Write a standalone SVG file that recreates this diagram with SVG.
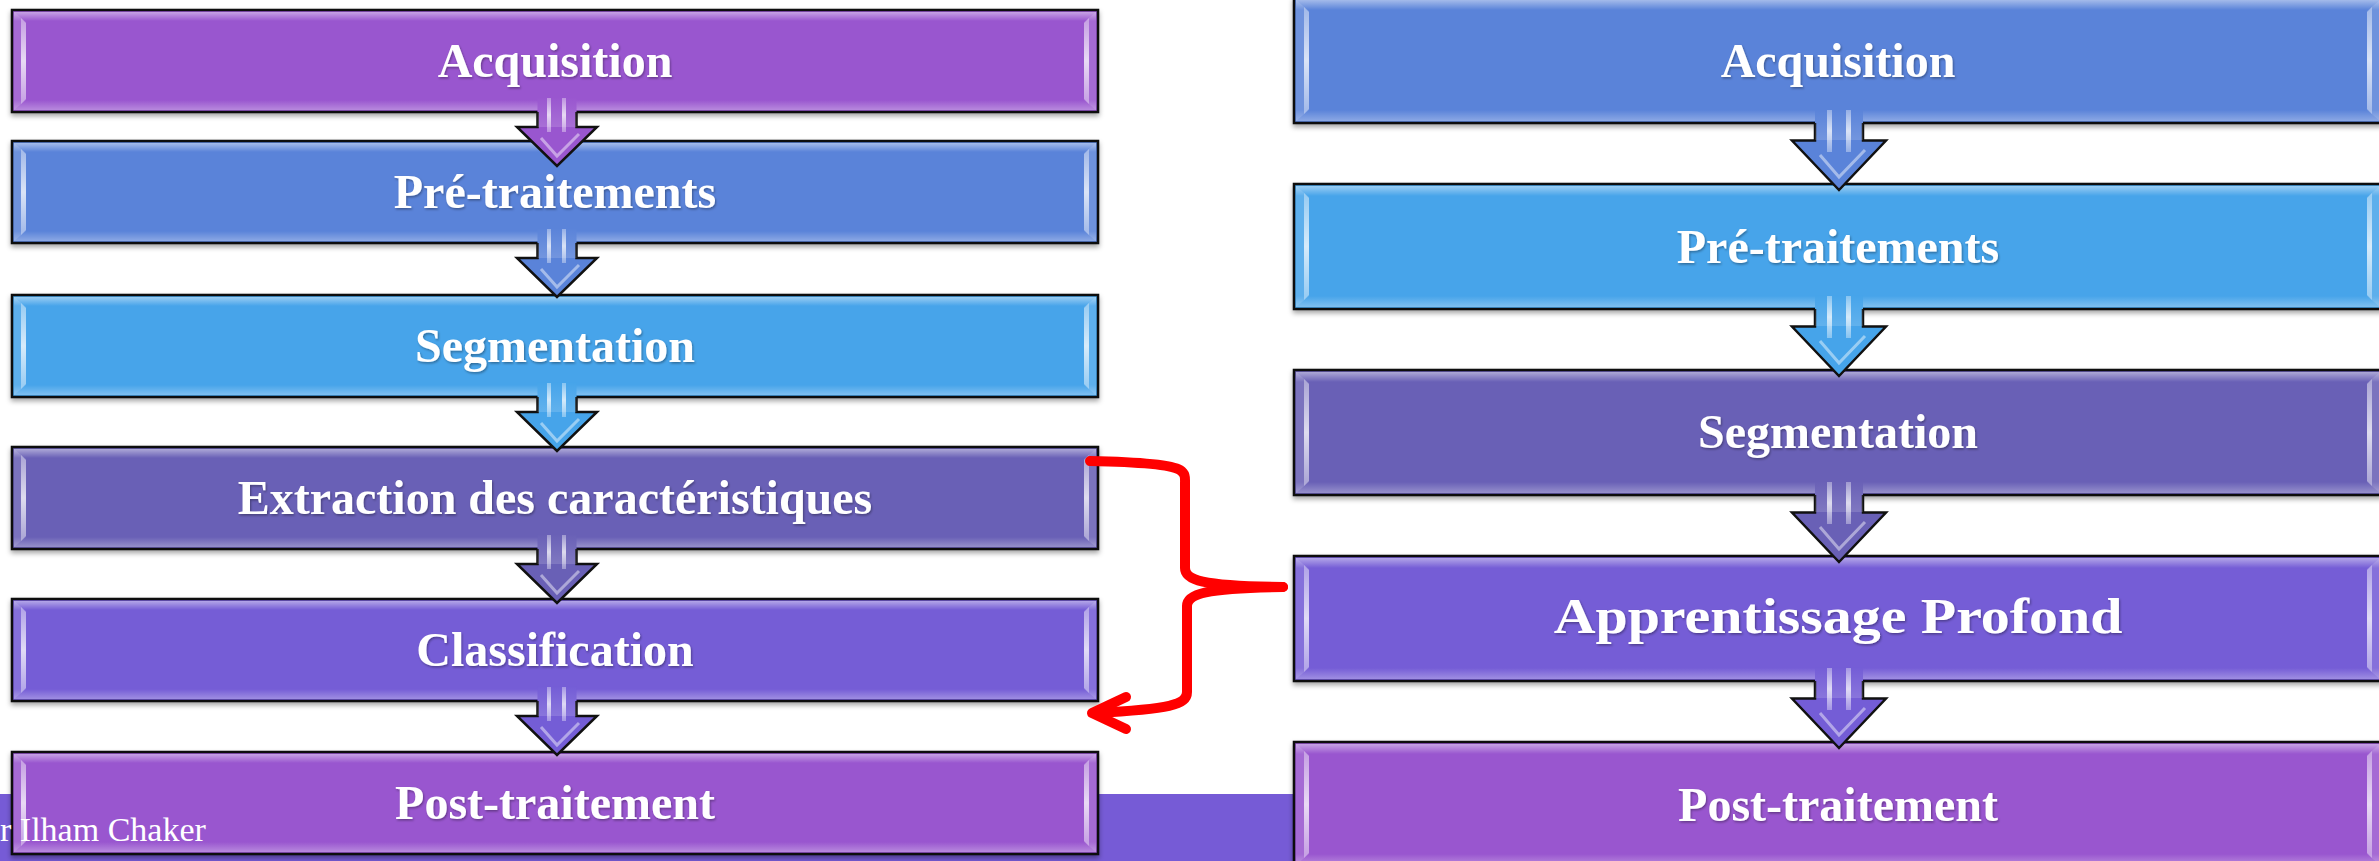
<svg xmlns="http://www.w3.org/2000/svg" xmlns:xlink="http://www.w3.org/1999/xlink" width="2379" height="861" viewBox="0 0 2379 861">
  <style>
    .box { stroke: #111; stroke-width: 2.5; filter: url(#shadow); }
    .lbl { font-family: "Liberation Serif", "Times New Roman", serif; font-weight: bold; font-size: 48px; fill: #fff; text-anchor: middle; filter: url(#tshadow); }
    .foot { font-family: "Liberation Serif", "Times New Roman", serif; font-size: 34px; fill: #fff; }
    .arr { stroke: #111; stroke-width: 2.5; stroke-linejoin: miter; }
    .shaft { stroke: none; }
    .hl { fill: url(#gStripe); }
    .chev { fill: none; stroke: #fff; stroke-opacity: 0.45; stroke-width: 3; }
    .red { fill: none; stroke: #ff0000; stroke-width: 10; stroke-linecap: round; stroke-linejoin: round; }
  </style>
  <defs>
    <filter id="shadow" x="-5%" y="-20%" width="110%" height="150%">
      <feDropShadow dx="0" dy="3" stdDeviation="2.5" flood-color="#000" flood-opacity="0.35"/>
    </filter>
    <filter id="tshadow" x="-10%" y="-30%" width="120%" height="160%">
      <feDropShadow dx="1" dy="1.5" stdDeviation="1" flood-color="#000" flood-opacity="0.35"/>
    </filter>
    <linearGradient id="gTop" x1="0" y1="0" x2="0" y2="1">
      <stop offset="0" stop-color="#fff" stop-opacity="0.45"/>
      <stop offset="1" stop-color="#fff" stop-opacity="0"/>
    </linearGradient>
    <linearGradient id="gBot" x1="0" y1="0" x2="0" y2="1">
      <stop offset="0" stop-color="#fff" stop-opacity="0"/>
      <stop offset="1" stop-color="#fff" stop-opacity="0.3"/>
    </linearGradient>
    <linearGradient id="gStripe" x1="0" y1="0" x2="0" y2="1">
      <stop offset="0" stop-color="#fff" stop-opacity="0.35"/>
      <stop offset="0.5" stop-color="#fff" stop-opacity="0.75"/>
      <stop offset="1" stop-color="#fff" stop-opacity="0.35"/>
    </linearGradient>
    <linearGradient id="gShaftFade" x1="0" y1="0" x2="0" y2="1">
      <stop offset="0" stop-color="#fff" stop-opacity="0"/>
      <stop offset="1" stop-color="#fff" stop-opacity="0.15"/>
    </linearGradient>

    <!-- bevel overlay for the left-column boxes (1086 x 102) -->
    <g id="bevelL">
      <rect x="2" y="2" width="1082" height="9" fill="url(#gTop)"/>
      <rect x="2" y="90" width="1082" height="10" fill="url(#gBot)"/>
      <path d="M2,2 L14,12 L14,90 L2,100 Z" fill="#fff" fill-opacity="0.12"/>
      <path d="M1084,2 L1072,12 L1072,90 L1084,100 Z" fill="#fff" fill-opacity="0.12"/>
      <path d="M9,8 L14,13 L14,89 L9,94 Z" fill="url(#gStripe)"/>
      <path d="M1077,8 L1072,13 L1072,89 L1077,94 Z" fill="url(#gStripe)"/>
    </g>
    <!-- bevel overlay for the right-column boxes (1088 x 125) -->
    <g id="bevelR">
      <rect x="2" y="2" width="1084" height="10" fill="url(#gTop)"/>
      <rect x="2" y="112" width="1084" height="11" fill="url(#gBot)"/>
      <path d="M2,2 L15,13 L15,112 L2,123 Z" fill="#fff" fill-opacity="0.12"/>
      <path d="M1086,2 L1073,13 L1073,112 L1086,123 Z" fill="#fff" fill-opacity="0.12"/>
      <path d="M10,9 L15,14 L15,111 L10,116 Z" fill="url(#gStripe)"/>
      <path d="M1078,9 L1073,14 L1073,111 L1078,116 Z" fill="url(#gStripe)"/>
    </g>

    <!-- block arrow for the left column, origin at the upper box bottom, centred on x=0 -->
    <g id="arrowL">
      <rect class="shaft" x="-19.5" y="-15" width="39" height="16" fill="inherit"/>
      <path class="arr" d="M-19.5,0 L-19.5,15 L-40,15 L0,54 L40,15 L19.5,15 L19.5,0"/>
      <rect x="-19.5" y="-15" width="39" height="30" fill="url(#gShaftFade)"/>
      <rect x="-10" y="-14" width="4" height="34" class="hl"/>
      <rect x="5" y="-14" width="4" height="34" class="hl"/>
      <path class="chev" d="M-16,26 L0,44 L22,22"/>
    </g>
    <!-- block arrow for the right column -->
    <g id="arrowR">
      <rect class="shaft" x="-24" y="-14" width="48" height="15" fill="inherit"/>
      <path class="arr" d="M-24,0 L-24,17.5 L-47,17.5 L0,67 L47,17.5 L24,17.5 L24,0"/>
      <rect x="-24" y="-14" width="48" height="31" fill="url(#gShaftFade)"/>
      <rect x="-12" y="-13" width="5" height="42" class="hl"/>
      <rect x="7" y="-13" width="5" height="42" class="hl"/>
      <path class="chev" d="M-19,32 L0,54 L26,27"/>
    </g>
  </defs>

  <rect width="2379" height="861" fill="#fff"/>

  <!-- footer band -->
  <rect id="footer-band" x="0" y="794" width="2379" height="67" fill="#765BD6"/>

  <!-- left column: classical pipeline -->
  <g id="l-acquisition" transform="translate(12,10)">
    <rect class="box" width="1086" height="102" fill="#9956CF"/>
    <use href="#bevelL"/>
    <text class="lbl" x="543" y="67">Acquisition</text>
  </g>
  <g id="l-pretraitements" transform="translate(12,141)">
    <rect class="box" width="1086" height="102" fill="#5A83D9"/>
    <use href="#bevelL"/>
    <text class="lbl" x="543" y="67">Pré-traitements</text>
  </g>
  <g id="l-segmentation" transform="translate(12,295)">
    <rect class="box" width="1086" height="102" fill="#46A4EA"/>
    <use href="#bevelL"/>
    <text class="lbl" x="543" y="67">Segmentation</text>
  </g>
  <g id="l-extraction" transform="translate(12,447)">
    <rect class="box" width="1086" height="102" fill="#6960B6"/>
    <use href="#bevelL"/>
    <text class="lbl" x="543" y="67">Extraction des caractéristiques</text>
  </g>
  <g id="l-classification" transform="translate(12,599)">
    <rect class="box" width="1086" height="102" fill="#745DD6"/>
    <use href="#bevelL"/>
    <text class="lbl" x="543" y="67">Classification</text>
  </g>
  <g id="l-posttraitement" transform="translate(12,752)">
    <rect class="box" width="1086" height="102" fill="#9956CF"/>
    <use href="#bevelL"/>
    <text class="lbl" x="543" y="67">Post-traitement</text>
  </g>

  <!-- right column: deep learning pipeline -->
  <g id="r-acquisition" transform="translate(1294,-2)">
    <rect class="box" width="1088" height="125" fill="#5A83D9"/>
    <use href="#bevelR"/>
    <text class="lbl" x="544" y="79">Acquisition</text>
  </g>
  <g id="r-pretraitements" transform="translate(1294,184)">
    <rect class="box" width="1088" height="125" fill="#46A4EA"/>
    <use href="#bevelR"/>
    <text class="lbl" x="544" y="79">Pré-traitements</text>
  </g>
  <g id="r-segmentation" transform="translate(1294,370)">
    <rect class="box" width="1088" height="125" fill="#6960B6"/>
    <use href="#bevelR"/>
    <text class="lbl" x="544" y="78">Segmentation</text>
  </g>
  <g id="r-apprentissage" transform="translate(1294,556)">
    <rect class="box" width="1088" height="125" fill="#745DD6"/>
    <use href="#bevelR"/>
    <!-- wider title: glyphs stretched horizontally -->
    <text class="lbl" transform="translate(544,77) scale(1.158,1)" x="0" y="0" style="font-size:50px">Apprentissage Profond</text>
  </g>
  <g id="r-posttraitement" transform="translate(1294,742)">
    <rect class="box" width="1088" height="125" fill="#9956CF"/>
    <use href="#bevelR"/>
    <text class="lbl" x="544" y="79">Post-traitement</text>
  </g>

  <!-- connectors -->
  <g id="connectors">
    <use href="#arrowL" transform="translate(557,112)" fill="#9956CF"/>
    <use href="#arrowL" transform="translate(557,243)" fill="#5A83D9"/>
    <use href="#arrowL" transform="translate(557,397)" fill="#46A4EA"/>
    <use href="#arrowL" transform="translate(557,549)" fill="#6960B6"/>
    <use href="#arrowL" transform="translate(557,701)" fill="#745DD6"/>

    <use href="#arrowR" transform="translate(1839,123)" fill="#5A83D9"/>
    <use href="#arrowR" transform="translate(1839,309)" fill="#46A4EA"/>
    <use href="#arrowR" transform="translate(1839,495)" fill="#6960B6"/>
    <use href="#arrowR" transform="translate(1839,681)" fill="#745DD6"/>

    <!-- red brace: feature extraction + classification map to deep learning -->
    <path class="red" d="M1090,461 C1140,462 1172,465 1180,470 C1186,474 1185,478 1185,485 L1185,568 C1185,580 1200,586 1283,587"/>
    <path class="red" d="M1283,587 C1205,588 1187,594 1187,606 L1187,692 C1187,705 1170,709 1095,713"/>
    <path class="red" d="M1126,697 L1092,713 L1126,729"/>
  </g>

  <text id="author" class="foot" x="0" y="841">r Ilham Chaker</text>
</svg>
